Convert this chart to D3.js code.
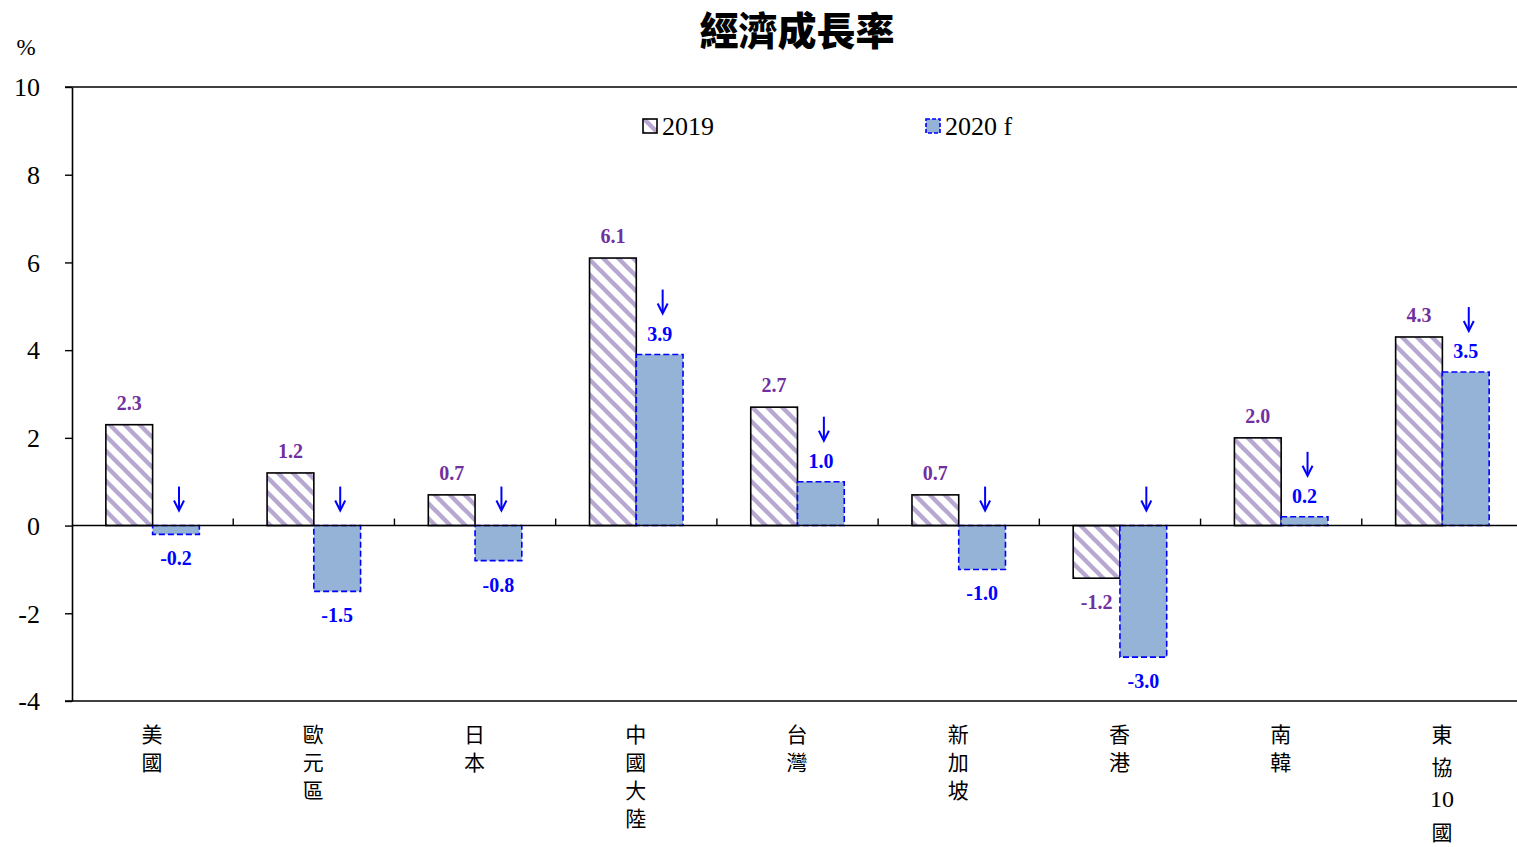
<!DOCTYPE html>
<html>
<head>
<meta charset="utf-8">
<script src="https://cdn.jsdelivr.net/npm/d3@7"></script>
<style>
  html, body { margin: 0; padding: 0; background: #fff; }
  svg { display: block; }
</style>
</head>
<body>
<svg id="chart" width="1517" height="847"></svg>
<script>
// Economic growth rates (%) — 2019 actual vs 2020 forecast
const categories = [
  ["美", "國"],
  ["歐", "元", "區"],
  ["日", "本"],
  ["中", "國", "大", "陸"],
  ["台", "灣"],
  ["新", "加", "坡"],
  ["香", "港"],
  ["南", "韓"],
  ["東", "協", "10", "國"]
];
const values2019 = [2.3, 1.2, 0.7, 6.1, 2.7, 0.7, -1.2, 2.0, 4.3];
const values2020 = [-0.2, -1.5, -0.8, 3.9, 1.0, -1.0, -3.0, 0.2, 3.5];
const seriesNames = ["2019", "2020 f"];
const yTicks = [-4, -2, 0, 2, 4, 6, 8, 10];

const svg = d3.select("#chart");
const W = 1517;
const plotLeft = 72, plotRight = 1523, plotTop = 87, plotBottom = 701;

const serif = "'Liberation Serif', 'Times New Roman', serif";
const cjk = "'Noto Sans CJK TC', 'Noto Sans CJK SC', sans-serif";

const x = d3.scaleBand().domain(d3.range(categories.length)).range([plotLeft, plotRight]).padding(0);
const bw = x.bandwidth() * 0.29;
const y = d3.scaleLinear().domain([-4, 10]).range([plotBottom, plotTop]);

// diagonal hatch for the 2019 bars
const defs = svg.append("defs");
const P = 15;
const pat = defs.append("pattern")
  .attr("id", "hatch").attr("patternUnits", "userSpaceOnUse")
  .attr("width", P).attr("height", P);
pat.append("rect").attr("width", P).attr("height", P).attr("fill", "#fff");
pat.append("path")
  .attr("d", `M-4,-4L${P + 4},${P + 4}M-4,${P - 4}L4,${P + 4}M${P - 4},-4L${P + 4},4`)
  .attr("stroke", "#b7a8d1").attr("stroke-width", 4.4);

// title
svg.append("text")
  .attr("x", 797).attr("y", 45).attr("text-anchor", "middle")
  .attr("font-family", cjk).attr("font-weight", 900).attr("font-size", 39)
  .text("經濟成長率");

// unit
svg.append("text")
  .attr("x", 26).attr("y", 55).attr("text-anchor", "middle")
  .attr("font-family", serif).attr("font-size", 23)
  .text("%");

// frame lines at top and bottom of the plot area
svg.append("line").attr("x1", plotLeft - 7).attr("x2", W).attr("y1", plotTop).attr("y2", plotTop)
  .attr("stroke", "#000").attr("stroke-width", 1.6);
svg.append("line").attr("x1", plotLeft - 7).attr("x2", W).attr("y1", plotBottom).attr("y2", plotBottom)
  .attr("stroke", "#000").attr("stroke-width", 1.6);

// y axis
const yAxis = svg.append("g").attr("transform", `translate(${plotLeft},0)`)
  .call(d3.axisLeft(y).tickValues(yTicks).tickFormat(d => String(d))
    .tickSize(7).tickSizeOuter(0).tickPadding(25));
yAxis.select(".domain").attr("stroke", "#000").attr("stroke-width", 1.6);
yAxis.selectAll(".tick line").attr("stroke", "#000").attr("stroke-width", 1.4);
yAxis.selectAll(".tick text")
  .attr("font-family", serif).attr("font-size", 26).attr("fill", "#000")
  .attr("dy", "0.34em");

// bars
const g = svg.append("g");
categories.forEach((c, i) => {
  const cx = x(i) + x.bandwidth() / 2;
  const v1 = values2019[i], v2 = values2020[i];
  g.append("rect")
    .attr("x", cx - bw).attr("width", bw)
    .attr("y", y(Math.max(v1, 0))).attr("height", Math.abs(y(v1) - y(0)))
    .attr("fill", "url(#hatch)").attr("stroke", "#000").attr("stroke-width", 1.6);
  g.append("rect")
    .attr("x", cx).attr("width", bw)
    .attr("y", y(Math.max(v2, 0))).attr("height", Math.abs(y(v2) - y(0)))
    .attr("fill", "#95b3d7").attr("stroke", "#0000ff").attr("stroke-width", 1.6)
    .attr("stroke-dasharray", "6,3");
});

// x axis along zero with upward ticks between categories
svg.append("line").attr("x1", plotLeft).attr("x2", W).attr("y1", y(0)).attr("y2", y(0))
  .attr("stroke", "#000").attr("stroke-width", 1.6);
d3.range(1, categories.length).forEach(i => {
  svg.append("line").attr("x1", x(i)).attr("x2", x(i))
    .attr("y1", y(0) - 7).attr("y2", y(0))
    .attr("stroke", "#000").attr("stroke-width", 1.4);
});

// value labels and arrows
categories.forEach((c, i) => {
  const cx = x(i) + x.bandwidth() / 2;
  const v1 = values2019[i], v2 = values2020[i];
  const c1 = cx - bw / 2, c2 = cx + bw / 2;
  svg.append("text")
    .attr("x", c1).attr("y", v1 >= 0 ? y(v1) - 15 : y(v1) + 31)
    .attr("text-anchor", "middle").attr("font-family", serif)
    .attr("font-weight", "bold").attr("font-size", 20).attr("fill", "#7030a0")
    .text(v1.toFixed(1));
  svg.append("text")
    .attr("x", c2).attr("y", v2 >= 0 ? y(v2) - 14 : y(v2) + 31)
    .attr("text-anchor", "middle").attr("font-family", serif)
    .attr("font-weight", "bold").attr("font-size", 20).attr("fill", "#0000ff")
    .text(v2.toFixed(1));
  // downward arrow marking the revision
  const ab = v2 >= 0 ? y(v2) - 41 : y(0) - 15;
  const ax = c2 + 3;
  svg.append("line").attr("x1", ax).attr("x2", ax).attr("y1", ab - 24).attr("y2", ab - 2)
    .attr("stroke", "#0000ff").attr("stroke-width", 2);
  svg.append("path")
    .attr("d", `M${ax - 5},${ab - 10}L${ax},${ab}L${ax + 5},${ab - 10}`)
    .attr("fill", "none").attr("stroke", "#0000ff").attr("stroke-width", 2);
});

// category labels, one character per line
categories.forEach((c, i) => {
  const cx = x(i) + x.bandwidth() / 2 - 0.5;
  const step = c.some(s => /\d/.test(s)) ? 32.5 : 28;
  c.forEach((s, k) => {
    svg.append("text")
      .attr("x", cx).attr("y", 742 + k * step)
      .attr("text-anchor", "middle")
      .attr("font-family", /\d/.test(s) ? serif : cjk)
      .attr("font-size", /\d/.test(s) ? 24 : 21).attr("fill", "#000")
      .text(s);
  });
});

// legend
const legend = [
  { name: seriesNames[0], x: 643, fill: "url(#hatch)", stroke: "#000", dash: null },
  { name: seriesNames[1], x: 926, fill: "#95b3d7", stroke: "#0000ff", dash: "4,2" }
];
legend.forEach(l => {
  svg.append("rect").attr("x", l.x).attr("y", 119).attr("width", 14).attr("height", 14)
    .attr("fill", l.fill).attr("stroke", l.stroke).attr("stroke-width", 1.6)
    .attr("stroke-dasharray", l.dash);
  svg.append("text").attr("x", l.x + 19).attr("y", 135)
    .attr("font-family", serif).attr("font-size", 26).attr("fill", "#000")
    .text(l.name);
});
</script>
</body>
</html>
